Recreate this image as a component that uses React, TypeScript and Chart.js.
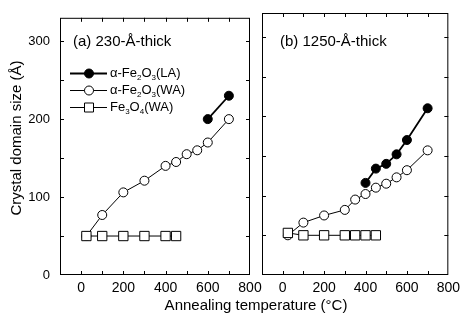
import React, { useEffect, useRef } from "react";
import { Chart, registerables } from "chart.js";

Chart.register(...registerables);

// ---- data ----
const tempA_LA = [600, 700];
const sizeA_LA = [200, 230];
const tempA_WA = [25, 100, 200, 300, 400, 450, 500, 550, 600, 700];
const sizeA_WA = [50, 77, 106, 121, 140, 145, 155, 160, 170, 200];
const tempA_Fe3O4 = [25, 100, 200, 300, 400, 450];
const sizeA_Fe3O4 = [50, 50, 50, 50, 50, 50];

const tempB_LA = [400, 450, 500, 550, 600, 700];
const sizeB_LA = [116, 134, 140, 152, 170, 210];
const tempB_WA = [25, 100, 200, 300, 350, 400, 450, 500, 550, 600, 700];
const sizeB_WA = [50, 66, 75, 82, 95, 102, 110, 115, 123, 132, 157];
const tempB_Fe3O4 = [25, 100, 200, 300, 350, 400, 450];
const sizeB_Fe3O4 = [53, 50, 50, 50, 50, 50, 50];

const xLabels = [0, 200, 400, 600, 800];
const yLabels = [0, 100, 200, 300];

const panelA = "(a) 230-\u00C5-thick";
const panelB = "(b) 1250-\u00C5-thick";
const yTitle = "Crystal domain size (\u00C5)";
const xTitle = "Annealing temperature (\u00B0C)";

type Part = { t: string; sub?: boolean };
const legendItems: { parts: Part[]; fill: string; style: string; width: number }[] = [
  { parts: [{ t: "\u03B1-Fe" }, { t: "2", sub: true }, { t: "O" }, { t: "3", sub: true }, { t: "(LA)" }], fill: "#000", style: "circle", width: 1.8 },
  { parts: [{ t: "\u03B1-Fe" }, { t: "2", sub: true }, { t: "O" }, { t: "3", sub: true }, { t: "(WA)" }], fill: "#fff", style: "circle", width: 1 },
  { parts: [{ t: "Fe" }, { t: "3", sub: true }, { t: "O" }, { t: "4", sub: true }, { t: "(WA)" }], fill: "#fff", style: "rect", width: 1 },
];

const FONT = "'Liberation Sans', Arial, Helvetica, sans-serif";

const pts = (xs: number[], ys: number[]) => xs.map((x, i) => ({ x, y: ys[i] }));

function makeDatasets(la: any[], wa: any[], fe: any[]) {
  return [
    {
      label: "LA", data: la, borderColor: "#000", backgroundColor: "#000", borderWidth: 1.8,
      pointStyle: "circle", pointRadius: 4.5, pointBackgroundColor: "#000", pointBorderColor: "#000",
      pointBorderWidth: 1, order: 2, tension: 0,
    },
    {
      label: "WA", data: wa, borderColor: "#000", backgroundColor: "#fff", borderWidth: 1,
      pointStyle: "circle", pointRadius: 4.5, pointBackgroundColor: "#fff", pointBorderColor: "#000",
      pointBorderWidth: 1, order: 1, tension: 0,
    },
    {
      label: "Fe3O4", data: fe, borderColor: "#000", backgroundColor: "#fff", borderWidth: 1,
      pointStyle: "rect", pointRadius: 6.6, pointBackgroundColor: "#fff", pointBorderColor: "#000",
      pointBorderWidth: 1, order: 0, tension: 0,
    },
  ];
}

function drawParts(ctx: CanvasRenderingContext2D, parts: Part[], x: number, y: number, size: number) {
  let cx = x;
  for (const p of parts) {
    if (p.sub) {
      ctx.font = `${Math.round(size * 0.62)}px ${FONT}`;
      ctx.fillText(p.t, cx, y + size * 0.3);
    } else {
      ctx.font = `${size}px ${FONT}`;
      ctx.fillText(p.t, cx, y);
    }
    cx += ctx.measureText(p.t).width;
  }
}

const framePlugin = {
  id: "frame",
  afterDraw(chart: any, _args: any, opts: any) {
    const { ctx, chartArea: a, scales } = chart;
    ctx.save();
    ctx.strokeStyle = "#000";
    ctx.lineWidth = 1;
    ctx.strokeRect(a.left + 0.5, a.top + 0.5, a.right - a.left - 1, a.bottom - a.top - 1);
    const L = 4;
    ctx.beginPath();
    for (const t of scales.x.ticks) {
      const px = Math.round(scales.x.getPixelForValue(t.value)) + 0.5;
      if (px <= a.left + 1 || px >= a.right - 1) continue;
      ctx.moveTo(px, a.bottom);
      ctx.lineTo(px, a.bottom - L);
      ctx.moveTo(px, a.top);
      ctx.lineTo(px, a.top + L);
    }
    for (const t of scales.y.ticks) {
      const py = Math.round(scales.y.getPixelForValue(t.value)) + 0.5;
      if (py <= a.top + 1 || py >= a.bottom - 1) continue;
      ctx.moveTo(a.left, py);
      ctx.lineTo(a.left + L, py);
      ctx.moveTo(a.right, py);
      ctx.lineTo(a.right - L, py);
    }
    ctx.stroke();

    // panel label
    ctx.fillStyle = "#000";
    ctx.textBaseline = "middle";
    ctx.textAlign = "left";
    ctx.font = `15px ${FONT}`;
    ctx.fillText(opts.label, a.left + opts.labelDx, 42);

    if (opts.legend) {
      const rows = [73, 90, 107];
      legendItems.forEach((it, i) => {
        const y = rows[i] + 0.5;
        ctx.beginPath();
        ctx.lineWidth = it.width;
        ctx.moveTo(70, y);
        ctx.lineTo(107, y);
        ctx.stroke();
        ctx.lineWidth = 1;
        ctx.fillStyle = it.fill;
        ctx.beginPath();
        if (it.style === "circle") {
          ctx.arc(89, y, 4.5, 0, Math.PI * 2);
        } else {
          ctx.rect(84.5, y - 4.5, 9, 9);
        }
        ctx.fill();
        ctx.stroke();
        ctx.fillStyle = "#000";
        drawParts(ctx, it.parts, 110, y, 13);
      });
    }
    if (opts.yTitle) {
      ctx.save();
      ctx.translate(17, 138);
      ctx.rotate(-Math.PI / 2);
      ctx.font = `15px ${FONT}`;
      ctx.textAlign = "center";
      ctx.textBaseline = "middle";
      ctx.fillStyle = "#000";
      ctx.fillText(opts.yTitle, 0, 0);
      ctx.restore();
    }
    if (opts.xTitle) {
      ctx.font = `15px ${FONT}`;
      ctx.textAlign = "center";
      ctx.fillStyle = "#000";
      ctx.fillText(opts.xTitle, 256, 306);
    }
    ctx.restore();
  },
};

function makeConfig(datasets: any[], left: boolean): any {
  return {
    type: "line",
    data: { datasets },
    options: {
      animation: false,
      responsive: false,
      layout: { padding: { top: 13, right: left ? 465 - 250 : 465 - 452, left: 0, bottom: 0 } },
      plugins: {
        legend: { display: false },
        tooltip: { enabled: false },
        frame: left
          ? { label: panelA, labelDx: 13, legend: true, yTitle }
          : { label: panelB, labelDx: 18, legend: false, xTitle },
      },
      scales: {
        x: {
          type: "linear",
          min: -100,
          max: 800,
          grid: { display: false, drawTicks: false },
          border: { display: false },
          ticks: {
            stepSize: 100,
            autoSkip: false,
            maxRotation: 0,
            includeBounds: false,
            padding: 5,
            color: "#000",
            font: { family: FONT, size: 14 },
            callback: (v: number) => (xLabels.includes(v) ? String(v) : ""),
          },
          afterFit: (s: any) => { s.height = 46; },
        },
        y: {
          type: "linear",
          min: 0,
          max: 330,
          grid: { display: false, drawTicks: false },
          border: { display: false },
          ticks: {
            display: left,
            stepSize: 50,
            autoSkip: false,
            includeBounds: false,
            padding: 10,
            color: "#000",
            font: { family: FONT, size: 13 },
            callback: (v: number) => (yLabels.includes(v) ? String(v) : ""),
          },
          afterFit: (s: any) => { s.width = left ? 60 : 262; },
        },
      },
    },
    plugins: [framePlugin],
  };
}

export default function App() {
  const refA = useRef<HTMLCanvasElement>(null);
  const refB = useRef<HTMLCanvasElement>(null);
  useEffect(() => {
    const a = new Chart(refA.current!, makeConfig(makeDatasets(pts(tempA_LA, sizeA_LA), pts(tempA_WA, sizeA_WA), pts(tempA_Fe3O4, sizeA_Fe3O4)), true));
    const b = new Chart(refB.current!, makeConfig(makeDatasets(pts(tempB_LA, sizeB_LA), pts(tempB_WA, sizeB_WA), pts(tempB_Fe3O4, sizeB_Fe3O4)), false));
    return () => { a.destroy(); b.destroy(); };
  }, []);
  const cs: React.CSSProperties = { position: "absolute", left: 0, top: 0 };
  return (
    <div style={{ position: "absolute", left: 0, top: 0, width: 465, height: 321, background: "#fff" }}>
      <canvas ref={refA} width={465} height={321} style={cs} />
      <canvas ref={refB} width={465} height={321} style={cs} />
    </div>
  );
}
